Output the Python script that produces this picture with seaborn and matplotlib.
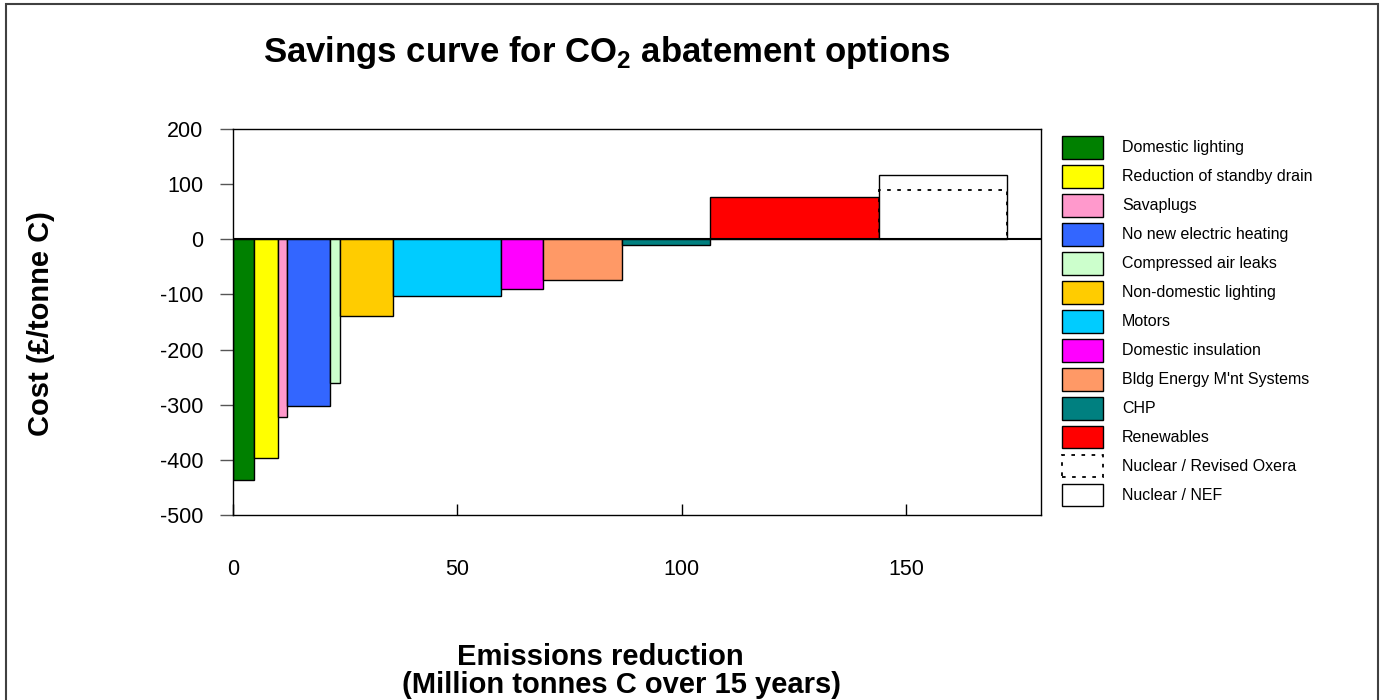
import matplotlib
matplotlib.use("Agg")
import matplotlib.pyplot as plt
import numpy as np
import seaborn as sns
from matplotlib.patches import Rectangle

# ----------------------------
# data
# ----------------------------
options = [
    "Domestic lighting",
    "Reduction of standby drain",
    "Savaplugs",
    "No new electric heating",
    "Compressed air leaks",
    "Non-domestic lighting",
    "Motors",
    "Domestic insulation",
    "Bldg Energy M'nt Systems",
    "CHP",
    "Renewables",
    "Nuclear / NEF",
]
# emissions reduction of each option (Mt C over 15 years)
widths = [4.6, 5.4, 2.1, 9.5, 2.2, 11.9, 23.9, 9.5, 17.5, 19.6, 37.6, 28.7]
# cost (GBP / tonne C)
costs = [-437, -396, -323, -303, -261, -140, -103, -90, -74, -10, 77, 116]
oxera_label = "Nuclear / Revised Oxera"
oxera_cost = 90

colors = [
    "#008000", "#FFFF00", "#FF99CC", "#3366FF", "#CCFFCC", "#FFCC00",
    "#00CCFF", "#FF00FF", "#FF9966", "#008080", "#FF0000", "#FFFFFF",
]

y_ticks = [-500, -400, -300, -200, -100, 0, 100, 200]
x_ticks = [0, 50, 100, 150]

# ----------------------------
# style
# ----------------------------
sns.set_style("white")
plt.rcParams["font.family"] = ["Liberation Sans", "DejaVu Sans"]
plt.rcParams["mathtext.fontset"] = "custom"
plt.rcParams["mathtext.rm"] = "Liberation Sans"
plt.rcParams["mathtext.bf"] = "Liberation Sans:bold"
plt.rcParams["axes.unicode_minus"] = False
for key in ["text.color", "axes.labelcolor", "xtick.color", "ytick.color"]:
    plt.rcParams[key] = "black"

W, H = 1386, 700
fig = plt.figure(figsize=(W / 100, H / 100), dpi=100)
ax = fig.add_axes([233 / W, 1 - 515 / H, (1041 - 233) / W, (515 - 129) / H])

lefts = np.concatenate([[0], np.cumsum(widths)[:-1]])

# ----------------------------
# bars
# ----------------------------
for i in range(len(options) - 1):
    ax.bar(lefts[i], costs[i], width=widths[i], align="edge",
           color=colors[i], edgecolor="black", linewidth=1,
           label=options[i], zorder=2)

ax.bar(lefts[-1], oxera_cost, width=widths[-1], align="edge",
       facecolor="none", edgecolor="black", linewidth=1.3,
       linestyle=(0, (2, 3.6)), label=oxera_label, zorder=4)
ax.bar(lefts[-1], costs[-1], width=widths[-1], align="edge",
       facecolor=colors[-1], edgecolor="black", linewidth=1,
       label=options[-1], zorder=3)

ax.axhline(0, color="black", linewidth=1.5, zorder=5)

# ----------------------------
# axes
# ----------------------------
ax.set_xlim(0, 180)
ax.set_ylim(-500, 200)
ax.set_xticks(x_ticks)
ax.set_yticks(y_ticks)
ax.set_xticklabels([str(v) for v in x_ticks])
ax.set_yticklabels([str(v) for v in y_ticks])
ax.tick_params(axis="y", direction="out", length=9.4, width=1,
               color="#555555", pad=12, labelsize=15.5, left=True)
ax.tick_params(axis="x", direction="in", length=8, width=1,
               color="black", pad=32, labelsize=15.5, bottom=True)
for s in ax.spines.values():
    s.set_color("black")
    s.set_linewidth(1)

# ----------------------------
# texts
# ----------------------------
fig.text(607 / W, 1 - 62 / H,
         "Savings curve for CO$_\\mathbf{2}$ abatement options",
         ha="center", va="baseline", fontsize=25, fontweight="bold")
fig.text(600 / W, 1 - 665 / H, "Emissions reduction",
         ha="center", va="baseline", fontsize=21, fontweight="bold")
fig.text(622 / W, 1 - 693 / H, "(Million tonnes C over 15 years)",
         ha="center", va="baseline", fontsize=21, fontweight="bold")
fig.text(41.5 / W, 1 - 324 / H, "Cost (£/tonne C)", rotation=90,
         ha="center", va="center", fontsize=21, fontweight="bold")

# ----------------------------
# legend
# ----------------------------
ax.legend(loc="upper left", bbox_to_anchor=(1062 / W, 1 - 136 / H),
          bbox_transform=fig.transFigure, frameon=False, fontsize=11.5,
          handlelength=2.56, handleheight=1.8, labelspacing=0.4,
          handletextpad=1.19, borderpad=0, borderaxespad=0)

# outer chart border
fig.patches.append(Rectangle((6 / W, -0.05), (1378 - 6) / W, (H - 4) / H + 0.05,
                             transform=fig.transFigure, fill=False,
                             edgecolor="#404040", linewidth=1.5))

fig.savefig("out.png", dpi=100)
plt.close(fig)
